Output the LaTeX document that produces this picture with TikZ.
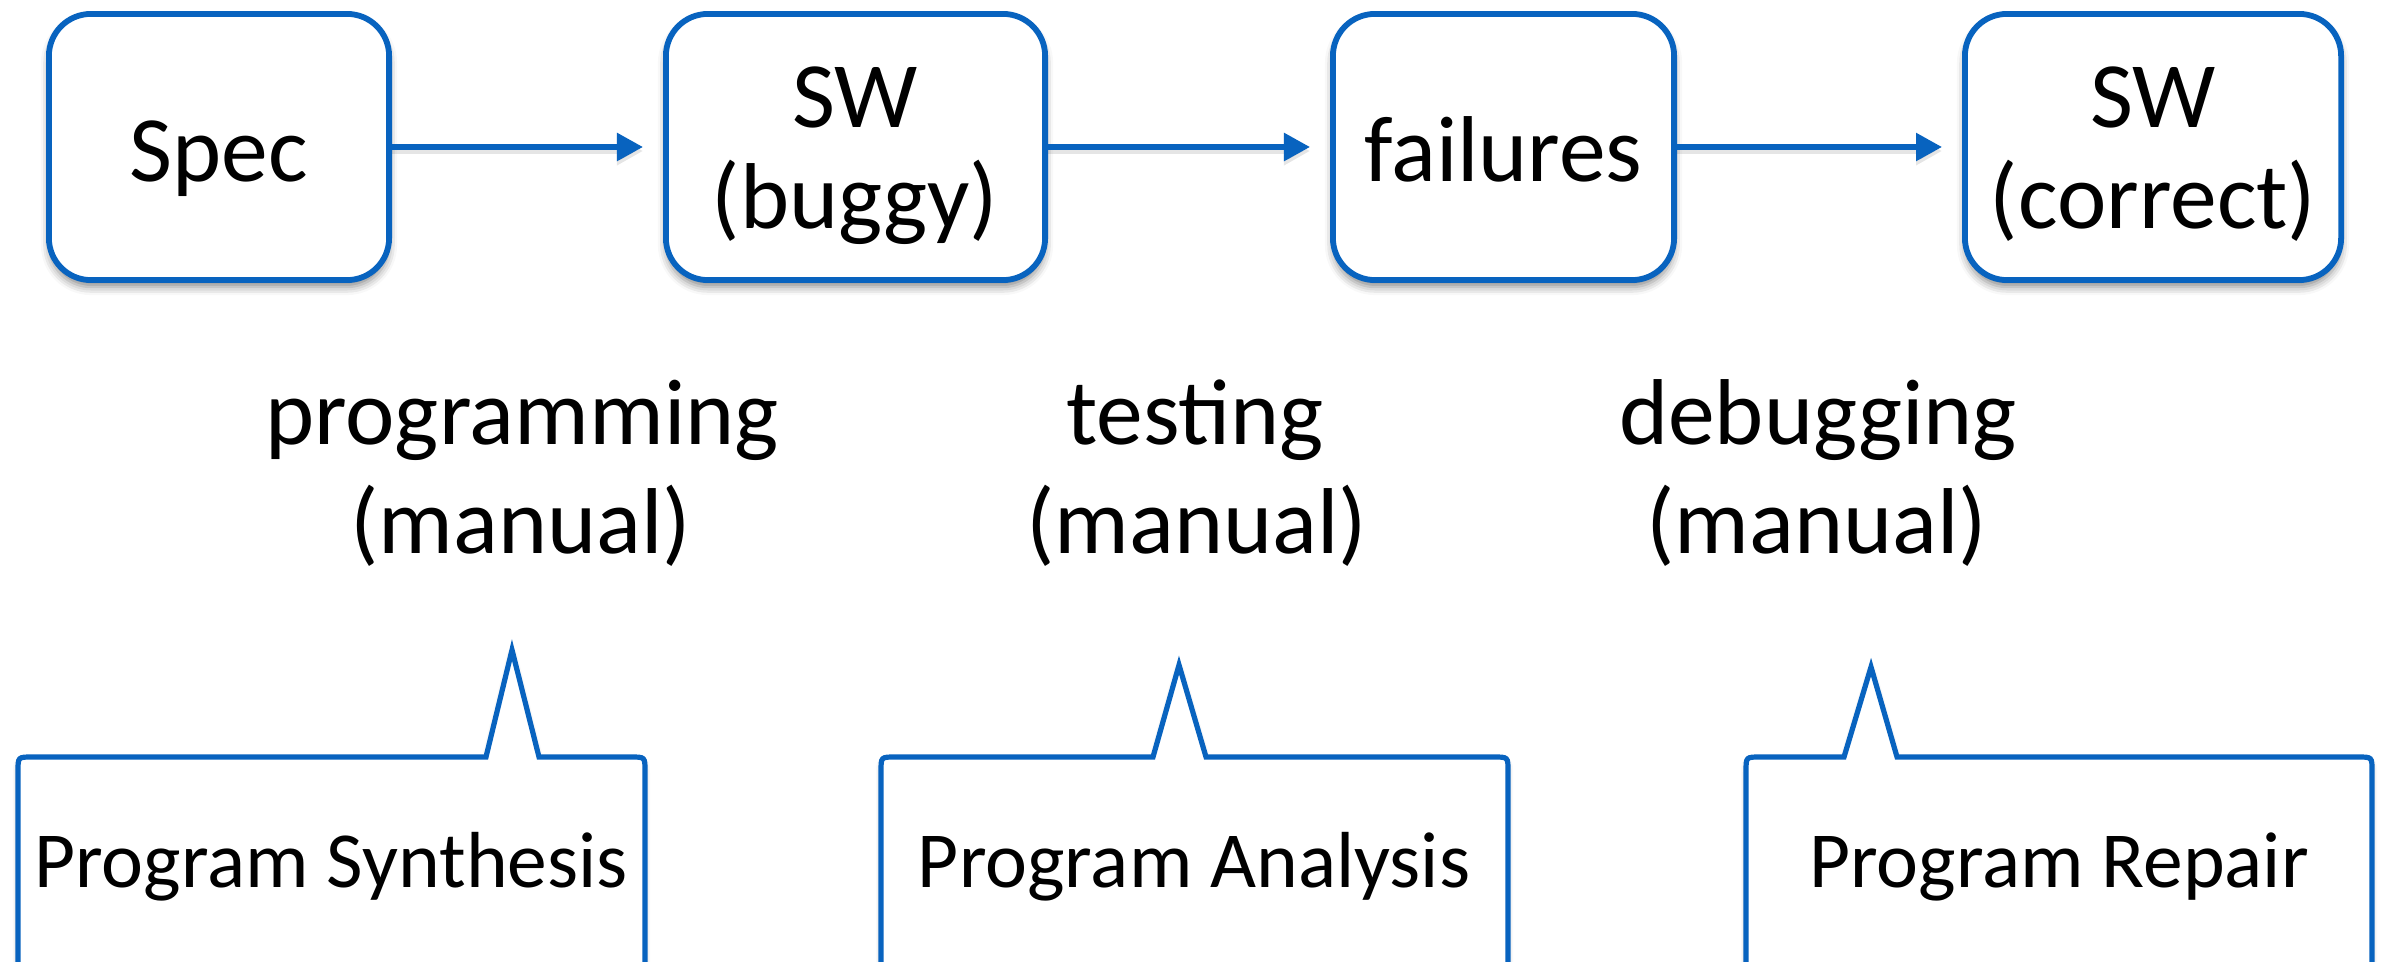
\documentclass[tikz,border=0pt]{standalone}
\usepackage{fontspec}
\setmainfont{Carlito}
\usetikzlibrary{arrows.meta,shadows.blur}
\definecolor{flowblue}{RGB}{8,99,191}
% speech bubble open at the bottom: left, right, spike base left, tip x, tip y, spike base right
\newcommand\bubbleoutline[6]{%
  \draw[bubble] (#1,1000) -- (#1,771) .. controls (#1,757) .. (#1+14,757)
    -- (#3,757) -- (#4,#5) -- (#6,757)
    -- (#2-14,757) .. controls (#2,757) .. (#2,771) -- (#2,1000);}
\begin{document}
\begin{tikzpicture}[x=0.01cm,y=-0.01cm,
  stage/.style={draw=flowblue,line width=0.058cm,fill=white,rounded corners=0.42cm,
    minimum height=2.66cm,inner sep=0pt,
    blur shadow={shadow xshift=0pt,shadow yshift=-0.07cm,shadow blur radius=0.08cm,shadow opacity=45}},
  big/.style={font=\fontsize{26.6}{31}\selectfont,anchor=base,inner sep=0pt},
  small/.style={font=\fontsize{22.6}{26}\selectfont,anchor=base,inner sep=0pt},
  flow/.style={draw=flowblue,line width=0.055cm,-{Triangle[length=0.26cm,width=0.27cm]},shorten >=0.2cm,
    preaction={draw=black,opacity=0.10,line width=0.07cm,transform canvas={yshift=-0.04cm}}},
  bubble/.style={draw=flowblue,line width=0.052cm,fill=white,line join=miter,miter limit=20,
    blur shadow={shadow xshift=0pt,shadow yshift=-0.04cm,shadow blur radius=0.05cm,shadow opacity=35}}]
\useasboundingbox (0,0) rectangle (2386,961);
\clip (0,0) rectangle (2386,961);

% pipeline stages
\node[stage,minimum width=3.40cm] (spec) at (219,147) {};
\node[stage,minimum width=3.79cm] (buggy) at (855.5,147) {};
\node[stage,minimum width=3.41cm] (fail) at (1503.5,147) {};
\node[stage,minimum width=3.76cm] (fixed) at (2153,147) {};

\node[big] (spect) at (219,182) {Spec};
\node[big] (buggyt1) at (855,128) {SW};
\node[big] (buggyt2) at (855,229) {(buggy)};
\node[big] (failt) at (1503.5,182) {failures};
\node[big] (fixedt1) at (2153,128) {SW};
\node[big] (fixedt2) at (2153,229) {(correct)};

% transitions
\draw[flow] (spec) -- (buggy);
\draw[flow] (buggy) -- (fail);
\draw[flow] (fail) -- (fixed);

% activity labels
\node[big] (prog1) at (522,444) {programming};
\node[big] (prog2) at (521,553) {(manual)};
\node[big] (test1) at (1195,444) {testing};
\node[big] (test2) at (1197,553) {(manual)};
\node[big] (debug1) at (1818,444) {debugging};
\node[big] (debug2) at (1817,553) {(manual)};

% automated counterparts
\bubbleoutline{18}{645}{486}{512}{650}{539}
\bubbleoutline{881}{1508}{1153}{1179}{665}{1206}
\bubbleoutline{1746}{2372}{1844}{1871}{667}{1897}

\node[small] (synth) at (331,887) {Program Synthesis};
\node[small] (anal) at (1194,887) {Program Analysis};
\node[small] (repair) at (2059,887) {Program Repair};
\end{tikzpicture}
\end{document}
